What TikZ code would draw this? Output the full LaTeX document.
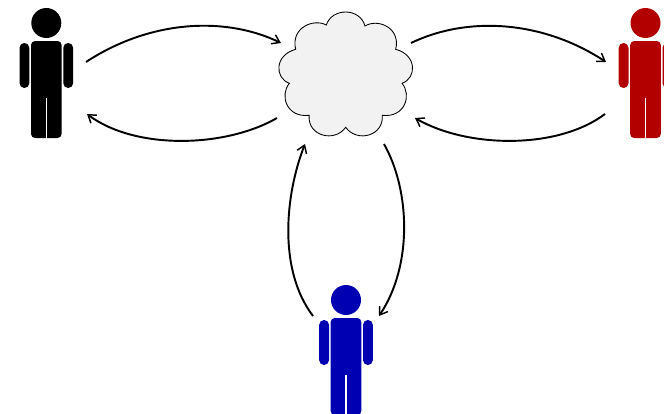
\documentclass[tikz,border=0pt]{standalone}
\usetikzlibrary{arrows.meta}
\definecolor{personred}{RGB}{178,0,0}
\definecolor{personblue}{RGB}{0,0,178}
\definecolor{cloudfill}{RGB}{242,242,242}
\tikzset{
  link/.style={line width=1.45pt,-{Straight Barb[length=5.5pt,width=7.5pt,line width=1.1pt]}},
  cloudline/.style={draw=black,fill=cloudfill,line width=0.65pt},
  pics/person/.style={code={
    \fill[#1] (0,-18) circle[radius=15];
    \fill[#1,rounded corners=3pt] (-15.3,0) rectangle (15.3,97);
    \fill[white] (-0.7,57) rectangle (0.7,98);
    \fill[#1,rounded corners=3.6pt] (-26.8,2) rectangle (-17,47);
    \fill[#1,rounded corners=3.6pt] (17,2) rectangle (26.8,47);
  }}
}
\begin{document}
\begin{tikzpicture}[x=0.75pt,y=-0.75pt]
\useasboundingbox (0,0) rectangle (664,414);
\clip (0,0) rectangle (664,414);
\pic at (46.3,41) {person=black};
\pic at (645.5,41) {person=personred};
\pic at (346,318) {person=personblue};
\draw[cloudline] (326.3,25)
  .. controls (332,7.5) and (360,7.5) .. (365,26)
  .. controls (378,18) and (401,28) .. (395.7,49.3)
  .. controls (417,55) and (417,78) .. (402,83.3)
  .. controls (412,95) and (405,118) .. (382.3,115.3)
  .. controls (384,136) and (357,143) .. (345.7,127.3)
  .. controls (334.4,143) and (307.4,136) .. (309.1,115.3)
  .. controls (286.4,118) and (279.4,95) .. (289.4,83.3)
  .. controls (274.4,78) and (274.4,55) .. (295.7,49.3)
  .. controls (290.4,28) and (313.4,18) .. (326.3,25) -- cycle;
\coordinate (a1) at (86,62);   \coordinate (a2) at (281,43);
\coordinate (b1) at (277,118); \coordinate (b2) at (87,114);
\coordinate (c1) at (411,43);  \coordinate (c2) at (606,62);
\coordinate (d1) at (605,114); \coordinate (d2) at (415,118);
\coordinate (e1) at (313,316); \coordinate (e2) at (305,144);
\coordinate (f1) at (384,144); \coordinate (f2) at (379,316);
\draw[link] (a1) .. controls (150,20) and (225,16) .. (a2);
\draw[link] (b1) .. controls (225,148) and (135,150) .. (b2);
\draw[link] (c1) .. controls (467,16) and (542,20) .. (c2);
\draw[link] (d1) .. controls (557,150) and (467,148) .. (d2);
\draw[link] (e1) .. controls (278,270) and (285,195) .. (e2);
\draw[link] (f1) .. controls (410,190) and (413,265) .. (f2);
\end{tikzpicture}
\end{document}
